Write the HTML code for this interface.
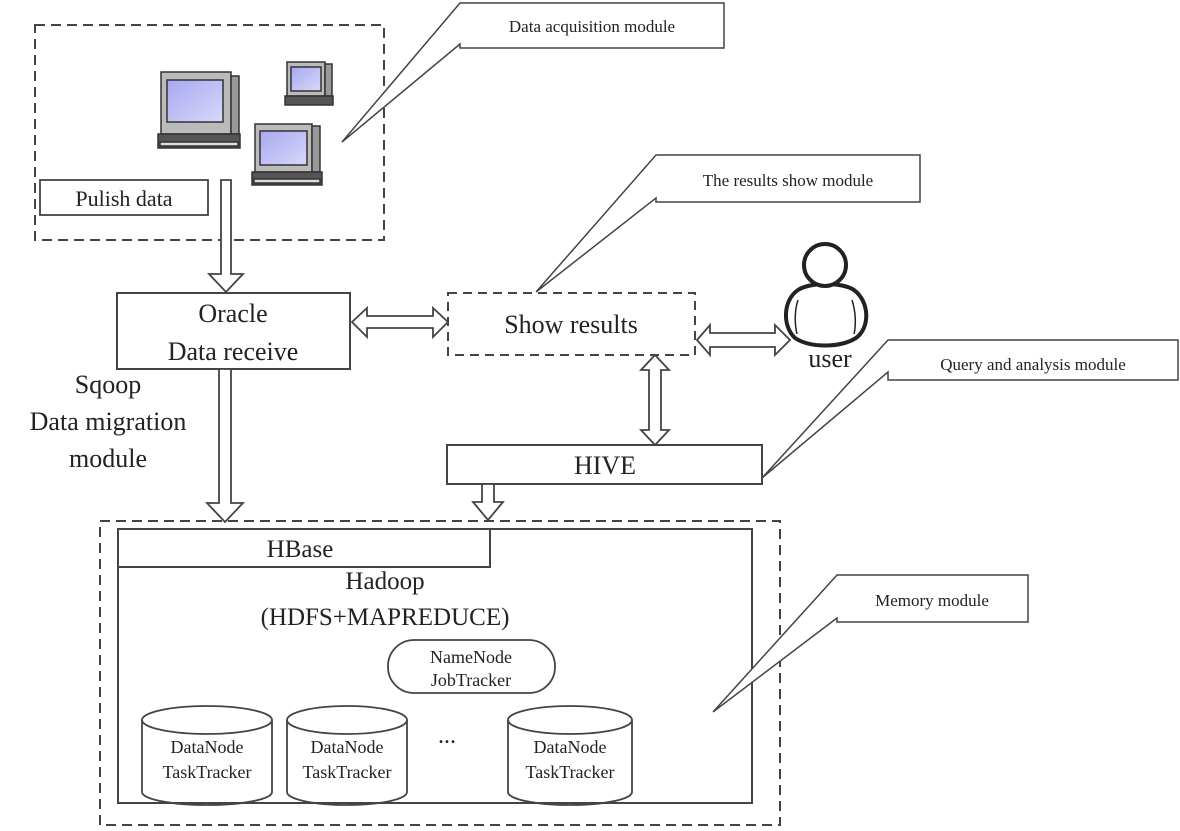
<!DOCTYPE html>
<html><head><meta charset="utf-8"><style>
html,body{margin:0;padding:0;background:#fff;}
svg{display:block;}
text{font-family:"Liberation Serif",serif;fill:#222;}
</style></head><body>
<svg width="1180" height="831" viewBox="0 0 1180 831" xmlns="http://www.w3.org/2000/svg">
<defs>
<linearGradient id="scr" x1="0" y1="0" x2="1" y2="1"><stop offset="0" stop-color="#a8a8f0"/><stop offset="1" stop-color="#d8d8fa"/></linearGradient>
</defs>
<g fill="none" stroke="#444" stroke-width="2">
<rect x="35" y="25" width="349" height="215" stroke-dasharray="10,6"/>
<rect x="40" y="180" width="168" height="35" stroke-width="1.8"/>
<path d="M460,3 H724 V48 H460 V44 L342,142 L460,3 Z" fill="#fff" stroke-width="1.5"/>
<path d="M221,180 H231 V274 H243 L226,292 L209,274 H221 Z" fill="#fff" stroke-width="1.8"/>
<rect x="117" y="293" width="233" height="76" fill="#fff"/>
<path d="M219,369 H231 V503 H243 L225,522 L207,503 H219 Z" fill="#fff" stroke-width="1.8"/>
<path d="M352,322 L367,308 V316 H433 V308 L448,322 L433,337 V328 H367 V337 Z" fill="#fff" stroke-width="1.8"/>
<rect x="448" y="293" width="247" height="62" stroke-dasharray="9,6"/>
<path d="M656,155 H920 V202 H656 V198 L536,292 L656,155 Z" fill="#fff" stroke-width="1.5"/>
<path d="M697,340 L710,325 V333 H775 V325 L790,340 L775,355 V347 H710 V355 Z" fill="#fff" stroke-width="1.8"/>
<path d="M655,355 L669,370 H661 V430 H669 L655,445 L641,430 H649 V370 H641 Z" fill="#fff" stroke-width="1.8"/>
<rect x="447" y="445" width="315" height="39" fill="#fff"/>
<path d="M888,340 H1178 V380 H888 V372 L762,478 L888,340 Z" fill="#fff" stroke-width="1.5"/>
<path d="M482,484 H494 V502 H503 L488,520 L473,502 H482 Z" fill="#fff" stroke-width="1.8"/>
<rect x="100" y="521" width="680" height="304" stroke-dasharray="10,6"/>
<rect x="118" y="529" width="634" height="274" stroke-width="2"/>
<rect x="118" y="529" width="372" height="38" stroke-width="2"/>
<path d="M837,575 H1028 V622 H837 V618 L713,712 L837,575 Z" fill="#fff" stroke-width="1.5"/>
<rect x="388" y="640" width="167" height="53" rx="26" ry="26" stroke-width="1.8"/>
<g stroke-width="1.8">
<path d="M142,720 V792 A65,13 0 0 0 272,792 V720"/><ellipse cx="207" cy="720" rx="65" ry="14"/>
<path d="M287,720 V792 A60,13 0 0 0 407,792 V720"/><ellipse cx="347" cy="720" rx="60" ry="14"/>
<path d="M508,720 V792 A62,13 0 0 0 632,792 V720"/><ellipse cx="570" cy="720" rx="62" ry="14"/>
</g>
<g stroke="#222" stroke-width="4">
<path d="M795,338 C782,326 783,300 798,290 C810,282 842,282 854,290 C870,302 870,328 856,338 C840,348 810,348 795,338 Z" fill="#fff"/>
<path d="M798,300 C794,312 795,326 797,334 M852,300 C856,312 856,326 854,334" stroke-width="1.5"/>
<circle cx="825" cy="265" r="21" fill="#fff"/>
</g>
</g>
<g stroke="#333" stroke-width="1.5">
<g>
<rect x="161" y="72" width="70" height="62" fill="#bbb"/>
<rect x="167" y="80" width="56" height="42" fill="url(#scr)"/>
<rect x="231" y="76" width="8" height="58" fill="#999"/>
<rect x="158" y="134" width="82" height="14" fill="#555"/>
<rect x="160" y="142" width="78" height="4" fill="#ddd"/>
</g>
<g>
<rect x="287" y="62" width="38" height="34" fill="#bbb"/>
<rect x="291" y="67" width="30" height="24" fill="url(#scr)"/>
<rect x="325" y="64" width="7" height="32" fill="#999"/>
<rect x="285" y="96" width="48" height="9" fill="#555"/>
</g>
<g>
<rect x="255" y="124" width="57" height="48" fill="#bbb"/>
<rect x="260" y="131" width="47" height="34" fill="url(#scr)"/>
<rect x="312" y="126" width="8" height="46" fill="#999"/>
<rect x="252" y="172" width="70" height="13" fill="#555"/>
<rect x="254" y="179" width="66" height="4" fill="#ddd"/>
</g>
</g>
<text x="592" y="32" font-size="17" text-anchor="middle">Data acquisition module</text>
<text x="124" y="206" font-size="22" text-anchor="middle">Pulish data</text>
<text x="233" y="322" font-size="26" text-anchor="middle">Oracle</text>
<text x="233" y="360" font-size="26" text-anchor="middle">Data receive</text>
<text x="571" y="333" font-size="26" text-anchor="middle">Show results</text>
<text x="788" y="186" font-size="17" text-anchor="middle">The results show module</text>
<text x="830" y="367" font-size="26" text-anchor="middle">user</text>
<text x="1033" y="370" font-size="17" text-anchor="middle">Query and analysis module</text>
<text x="605" y="474" font-size="26" text-anchor="middle">HIVE</text>
<text x="108" y="393" font-size="26" text-anchor="middle">Sqoop</text>
<text x="108" y="430" font-size="26" text-anchor="middle">Data migration</text>
<text x="108" y="467" font-size="26" text-anchor="middle">module</text>
<text x="300" y="557" font-size="25" text-anchor="middle">HBase</text>
<text x="385" y="589" font-size="25" text-anchor="middle">Hadoop</text>
<text x="385" y="625" font-size="25" text-anchor="middle">(HDFS+MAPREDUCE)</text>
<text x="471" y="663" font-size="18" text-anchor="middle">NameNode</text>
<text x="471" y="686" font-size="18" text-anchor="middle">JobTracker</text>
<text x="932" y="606" font-size="17" text-anchor="middle">Memory module</text>
<text x="207" y="753" font-size="18" text-anchor="middle">DataNode</text>
<text x="207" y="778" font-size="18" text-anchor="middle">TaskTracker</text>
<text x="347" y="753" font-size="18" text-anchor="middle">DataNode</text>
<text x="347" y="778" font-size="18" text-anchor="middle">TaskTracker</text>
<text x="570" y="753" font-size="18" text-anchor="middle">DataNode</text>
<text x="570" y="778" font-size="18" text-anchor="middle">TaskTracker</text>
<text x="447" y="743" font-size="24" text-anchor="middle">...</text>
</svg>
</body></html>
